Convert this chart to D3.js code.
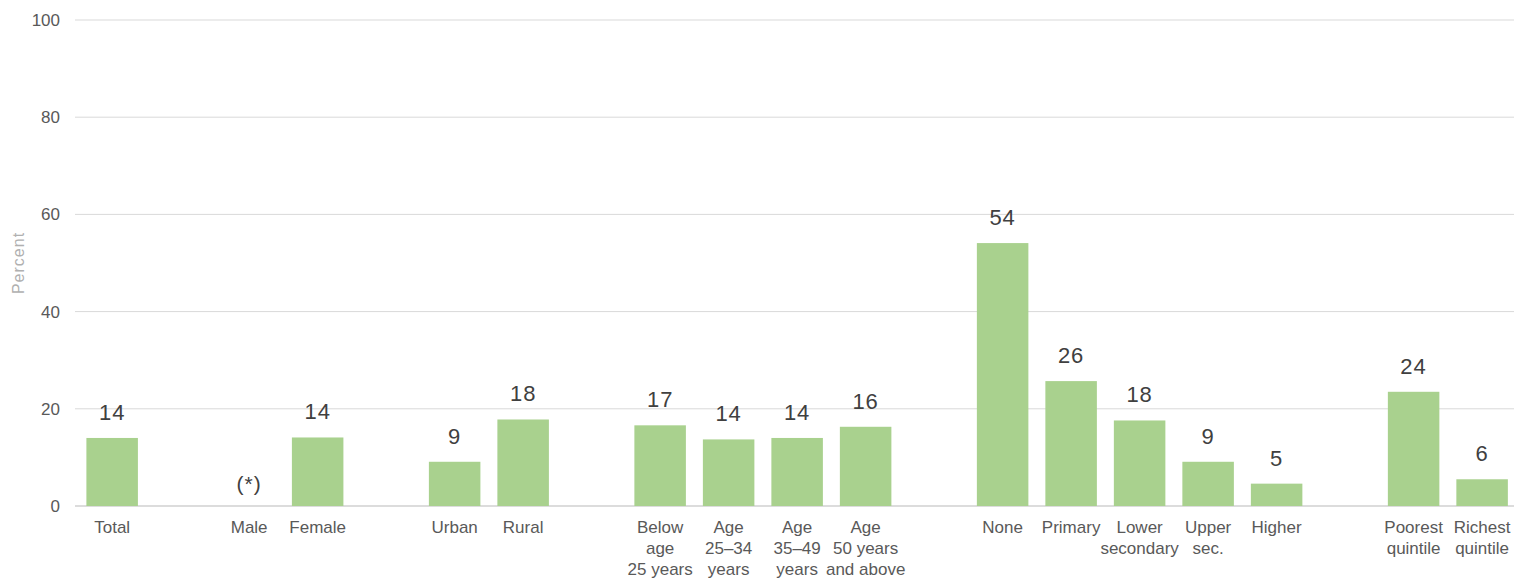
<!DOCTYPE html>
<html>
<head>
<meta charset="utf-8">
<script src="https://cdn.jsdelivr.net/npm/d3@7"></script>
<style>
  html, body { margin: 0; padding: 0; background: #fff; }
  svg { display: block; font-family: "Liberation Sans", Arial, sans-serif; }
</style>
</head>
<body>
<svg id="chart" width="1514" height="581"></svg>
<script>
// Category slots; empty strings are spacer slots between groups.
const categories = [
  "Total", "", "Male", "Female", "", "Urban", "Rural", "",
  "Below\nage\n25 years", "Age\n25\u201334\nyears", "Age\n35\u201349\nyears", "Age\n50 years\nand above", "",
  "None", "Primary", "Lower\nsecondary", "Upper\nsec.", "Higher", "",
  "Poorest\nquintile", "Richest\nquintile"
];
// Percent values per slot (null = no bar drawn).
const values = [
  14.0, null, null, 14.1, null, 9.1, 17.8, null,
  16.6, 13.7, 14.0, 16.3, null,
  54.1, 25.7, 17.6, 9.1, 4.6, null,
  23.5, 5.5
];
// Marker shown where an estimate is suppressed.
const suppressed = { "Male": "(*)" };
const yTicks = [0, 20, 40, 60, 80, 100];

const svg = d3.select("#chart");
const margin = { left: 75, right: 0, top: 20, bottom: 75 };
const W = 1514, H = 581;

const slots = categories.map((c, i) => i);
const x = d3.scaleBand()
  .domain(slots)
  .range([margin.left, W - margin.right])
  .paddingInner(0.248)
  .paddingOuter(0.128)
  .align(0.65);

const y = d3.scaleLinear().domain([0, 100]).range([H - margin.bottom, margin.top]);

// Gridlines
svg.append("g")
  .selectAll("line")
  .data(yTicks)
  .join("line")
  .attr("x1", margin.left)
  .attr("x2", W - margin.right)
  .attr("y1", d => y(d))
  .attr("y2", d => y(d))
  .attr("stroke", d => d === 0 ? "#d0d0d0" : "#d9d9d9")
  .attr("stroke-width", d => d === 0 ? 1.5 : 1);

// Y axis labels
const yAxis = svg.append("g")
  .attr("transform", `translate(${margin.left - 15},0)`)
  .call(d3.axisLeft(y).tickValues(yTicks).tickSize(0).tickPadding(0));
yAxis.select(".domain").remove();
yAxis.selectAll("text")
  .attr("fill", "#595959")
  .style("font-size", "17px")
  .style("font-family", "Liberation Sans, Arial, sans-serif");

// Y axis title
svg.append("text")
  .attr("transform", `translate(24,${(y(0) + y(100)) / 2}) rotate(-90)`)
  .attr("text-anchor", "middle")
  .attr("fill", "#b0b0b0")
  .style("font-size", "16px")
  .style("letter-spacing", "1px")
  .text("Percent");

const data = slots.map(i => ({ i, label: categories[i], value: values[i] }));

// Bars
svg.append("g")
  .selectAll("rect")
  .data(data.filter(d => d.value != null))
  .join("rect")
  .attr("x", d => x(d.i))
  .attr("width", x.bandwidth())
  .attr("y", d => y(d.value))
  .attr("height", d => y(0) - y(d.value))
  .attr("fill", "#a9d18e");

// Value labels
svg.append("g")
  .selectAll("text")
  .data(data.filter(d => d.value != null))
  .join("text")
  .attr("x", d => x(d.i) + x.bandwidth() / 2)
  .attr("y", d => y(d.value) - 18)
  .attr("text-anchor", "middle")
  .attr("fill", "#404040")
  .style("font-size", "22px")
  .style("letter-spacing", "1px")
  .text(d => d3.format(".0f")(d.value));

// Suppressed-estimate markers
svg.append("g")
  .selectAll("text")
  .data(data.filter(d => suppressed[d.label]))
  .join("text")
  .attr("x", d => x(d.i) + x.bandwidth() / 2)
  .attr("y", y(0) - 15)
  .attr("text-anchor", "middle")
  .attr("fill", "#404040")
  .style("font-size", "21px")
  .style("letter-spacing", "1px")
  .text(d => suppressed[d.label]);

// Category labels (multi-line)
const catG = svg.append("g")
  .selectAll("text")
  .data(data.filter(d => d.label))
  .join("text")
  .attr("text-anchor", "middle")
  .attr("fill", "#595959")
  .style("font-size", "17px")
  .attr("transform", d => `translate(${x(d.i) + x.bandwidth() / 2},${y(0) + 27})`);
catG.selectAll("tspan")
  .data(d => d.label.split("\n"))
  .join("tspan")
  .attr("x", 0)
  .attr("dy", (d, k) => k === 0 ? 0 : 21)
  .text(d => d);
</script>
</body>
</html>
